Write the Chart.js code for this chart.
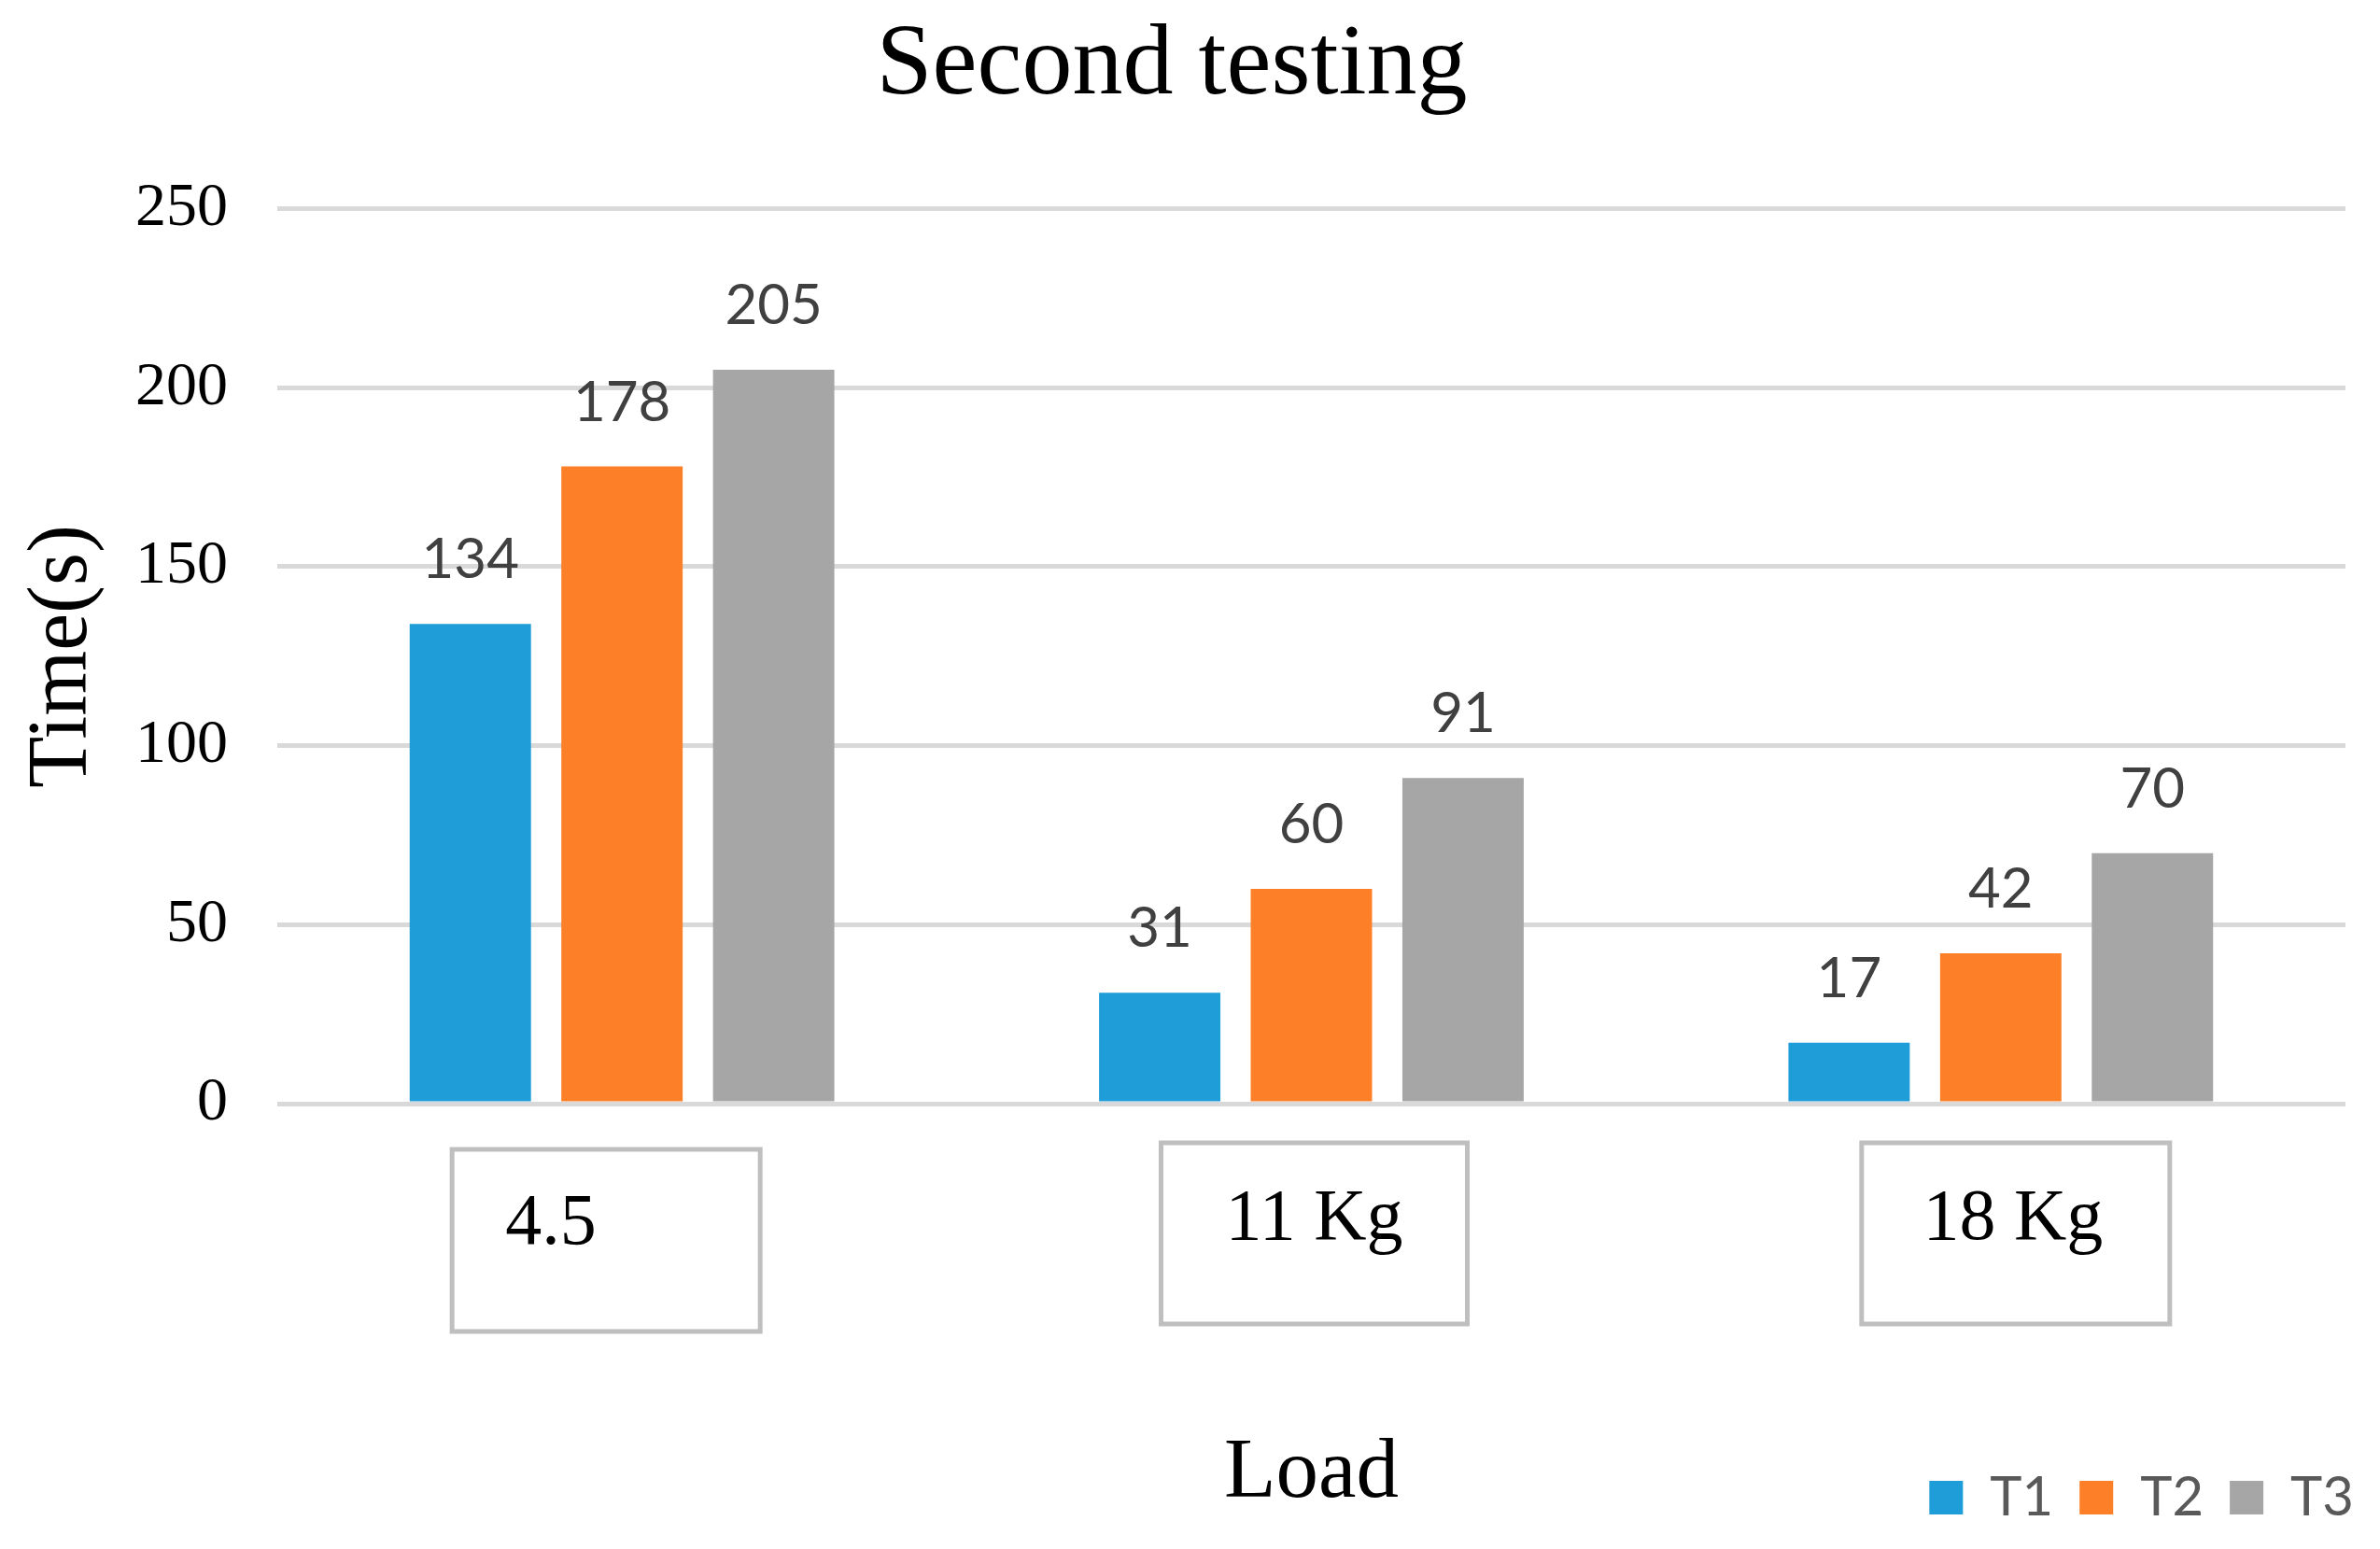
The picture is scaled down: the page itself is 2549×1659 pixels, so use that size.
<!DOCTYPE html>
<html>
<head>
<meta charset="utf-8">
<script src="https://cdn.jsdelivr.net/npm/chart.js@4.4.1/dist/chart.umd.min.js"></script>
<style>
    body { margin: 0; background: #ffffff; }
    canvas { display: block; }
</style>
</head>
<body>
<canvas id="chart" width="2549" height="1659"></canvas>
<script>
// chart values
const categories = ['4.5', '11 Kg', '18 Kg'];
const seriesNames = ['T1', 'T2', 'T3'];
const t1Values = [134, 31, 17];
const t2Values = [178, 60, 42];
const t3Values = [205, 91, 70];
const yTicks = [0, 50, 100, 150, 200, 250];

const colors = ['#1f9dd9', '#fd7f27', '#a6a6a6'];
const serif = '"Liberation Serif", "Times New Roman", serif';
const sans = 'Lato, "Open Sans", sans-serif';

// boxes around the category labels (offset from category centre, in px)
const labelBoxes = [
    { dx: -17, top: 1231, w: 330, h: 195, align: 'left', tx: 57, ty: 101 },
    { dx: 3, top: 1224, w: 328, h: 194, align: 'center', tx: 164, ty: 103 },
    { dx: 16, top: 1224, w: 330, h: 194, align: 'center', tx: 162, ty: 103 }
];

const valueLabels = {
    id: 'valueLabels',
    afterDatasetsDraw(chart) {
        const ctx = chart.ctx;
        ctx.save();
        ctx.font = '60px ' + sans;
        ctx.fillStyle = '#404040';
        ctx.textAlign = 'center';
        ctx.textBaseline = 'alphabetic';
        chart.data.datasets.forEach((ds, i) => {
            chart.getDatasetMeta(i).data.forEach((bar, j) => {
                ctx.fillText(String(ds.data[j]), bar.x, bar.y - 49);
            });
        });
        ctx.restore();
    }
};

const categoryBoxes = {
    id: 'categoryBoxes',
    afterDraw(chart) {
        const ctx = chart.ctx;
        const x = chart.scales.x;
        ctx.save();
        categories.forEach((c, i) => {
            const b = labelBoxes[i];
            const left = x.getPixelForValue(i) + b.dx - b.w / 2;
            ctx.strokeStyle = '#bfbfbf';
            ctx.lineWidth = 5;
            ctx.strokeRect(left, b.top, b.w, b.h);
            ctx.fillStyle = '#000000';
            ctx.font = '78px ' + serif;
            ctx.textAlign = b.align;
            ctx.textBaseline = 'alphabetic';
            ctx.fillText(c, left + b.tx, b.top + b.ty);
        });
        ctx.restore();
    }
};

const datasets = [t1Values, t2Values, t3Values].map((vals, i) => ({
    label: seriesNames[i],
    data: vals,
    backgroundColor: colors[i],
    borderWidth: 0,
    barPercentage: 0.8,
    categoryPercentage: 0.66
}));

new Chart(document.getElementById('chart'), {
    type: 'bar',
    data: { labels: categories, datasets: datasets },
    options: {
        responsive: false,
        animation: false,
        devicePixelRatio: 1,
        // negative left padding moves the title centre a little left, as in the original
        layout: { padding: { left: -39, right: 0, top: 0, bottom: 16 } },
        plugins: {
            title: {
                display: true,
                text: 'Second testing',
                color: '#000000',
                font: { family: serif, size: 108, weight: 'normal' },
                padding: { top: 7, bottom: 87 }
            },
            legend: {
                display: true,
                position: 'bottom',
                align: 'end',
                labels: {
                    boxWidth: 36,
                    boxHeight: 36,
                    padding: 28,
                    color: '#595959',
                    font: { family: sans, size: 58 }
                }
            },
            tooltip: { enabled: false }
        },
        scales: {
            x: {
                grid: { display: false },
                border: { display: false },
                ticks: { display: false },
                title: {
                    display: true,
                    text: 'Load',
                    color: '#000000',
                    font: { family: serif, size: 91 },
                    padding: { top: 0, bottom: -87 }
                },
                afterFit: s => { s.height = 365; }
            },
            y: {
                min: 0,
                max: 250,
                afterBuildTicks: s => { s.ticks = yTicks.map(v => ({ value: v })); },
                grid: { color: '#d9d9d9', lineWidth: 5, drawTicks: false },
                border: { display: false },
                ticks: {
                    color: '#000000',
                    padding: 53,
                    font: { family: serif, size: 66 }
                },
                title: {
                    display: true,
                    text: 'Time(s)',
                    color: '#000000',
                    font: { family: serif, size: 90 },
                    padding: { top: 53, bottom: 0 }
                },
                afterFit: s => { s.width = 336; }
            },
            // empty right-hand gutter so the plot stops short of the legend edge
            gutter: {
                type: 'linear',
                position: 'right',
                display: true,
                grid: { display: false },
                border: { display: false },
                ticks: { display: false },
                afterFit: s => { s.width = 37; }
            }
        }
    },
    plugins: [valueLabels, categoryBoxes]
});
</script>
</body>
</html>
